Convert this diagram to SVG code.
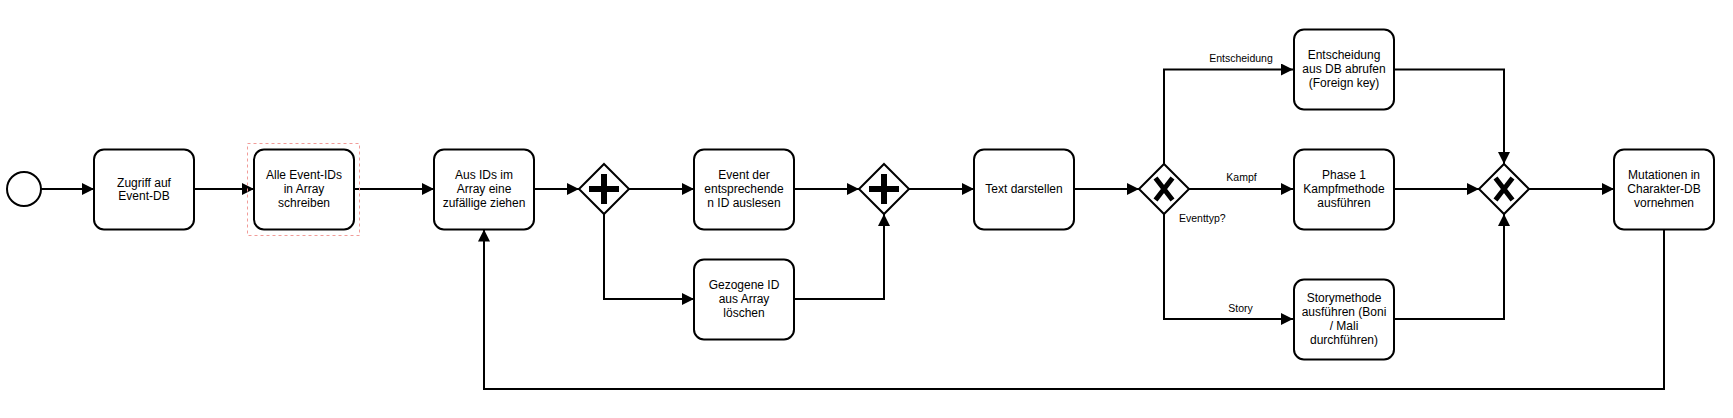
<svg xmlns="http://www.w3.org/2000/svg" width="1733" height="418" viewBox="0 0 1733 418">
<style>
.task{fill:#fff;stroke:#000;stroke-width:2}
.gw{fill:#fff;stroke:#000;stroke-width:2}
.ev{fill:#fff;stroke:#000;stroke-width:2}
.edge{fill:none;stroke:#000;stroke-width:2;marker-end:url(#arr)}
.t{font-family:"Liberation Sans",Arial,sans-serif;font-size:12px;fill:#000;text-anchor:middle}
.lbl{font-family:"Liberation Sans",Arial,sans-serif;font-size:10.5px;fill:#000;text-anchor:middle}
.sym{stroke:#000;stroke-width:6;fill:none}
.xs{stroke:#000;stroke-width:5;fill:none}
</style>
<defs>
<marker id="arr" markerUnits="userSpaceOnUse" markerWidth="12" markerHeight="12" refX="10" refY="5" orient="auto" viewBox="0 0 10 10">
<path d="M0,0 L10,5 L0,10 Z" fill="#000"/>
</marker>
</defs>
<rect width="1733" height="418" fill="#fff"/>
<g id="connectors">
<path class="edge" d="M41,189 L94,189"/>
<path class="edge" d="M194,189 L254,189"/>
<path class="edge" d="M354,189 L434,189"/>
<path class="edge" d="M534,189 L579,189"/>
<path class="edge" d="M629,189 L694,189"/>
<path class="edge" d="M604,214 L604,299 L694,299"/>
<path class="edge" d="M794,189 L859,189"/>
<path class="edge" d="M794,299 L884,299 L884,214"/>
<path class="edge" d="M909,189 L974,189"/>
<path class="edge" d="M1074,189 L1139,189"/>
<path class="edge" d="M1164,164 L1164,69.5 L1293,69.5"/>
<path class="edge" d="M1189,189 L1293,189"/>
<path class="edge" d="M1164,214 L1164,319 L1293,319"/>
<path class="edge" d="M1394,69.5 L1504,69.5 L1504,164"/>
<path class="edge" d="M1394,189 L1479,189"/>
<path class="edge" d="M1394,319 L1504,319 L1504,214"/>
<path class="edge" d="M1529,189 L1614,189"/>
<path class="edge" d="M1664,229.5 L1664,389 L484,389 L484,229.5"/>
<text class="lbl" x="1241" y="62">Entscheidung</text>
<text class="lbl" x="1241.5" y="181">Kampf</text>
<text class="lbl" x="1179" y="222" style="text-anchor:start">Eventtyp?</text>
<text class="lbl" x="1240.5" y="312">Story</text>
</g>
<g id="start">
<circle class="ev" cx="24" cy="189" r="17"/>
</g>
<g id="task-zugriff">
<rect class="task" x="94" y="149.5" width="100" height="80" rx="10"/>
<text class="t" x="144" y="186.5">Zugriff auf</text>
<text class="t" x="144" y="200">Event-DB</text>
</g>
<g id="task-alle">
<rect x="247.5" y="143.5" width="112" height="92" fill="none" stroke="#F19C99" stroke-width="1" stroke-dasharray="3 3"/>
<rect class="task" x="254" y="149.5" width="100" height="80" rx="10"/>
<text class="t" x="304" y="179">Alle Event-IDs</text>
<text class="t" x="304" y="193">in Array</text>
<text class="t" x="304" y="207">schreiben</text>
</g>
<g id="task-aus">
<rect class="task" x="434" y="149.5" width="100" height="80" rx="10"/>
<text class="t" x="484" y="179">Aus IDs im</text>
<text class="t" x="484" y="193">Array eine</text>
<text class="t" x="484" y="207">zufällige ziehen</text>
</g>
<g id="gw-par1">
<path class="gw" d="M604,164 L629,189 L604,214 L579,189 Z"/>
<path class="sym" d="M589,189 L619,189 M604,174 L604,204"/>
</g>
<g id="task-event">
<rect class="task" x="694" y="149.5" width="100" height="80" rx="10"/>
<text class="t" x="744" y="179">Event der</text>
<text class="t" x="744" y="193">entsprechende</text>
<text class="t" x="744" y="207">n ID auslesen</text>
</g>
<g id="task-gezogene">
<rect class="task" x="694" y="259.5" width="100" height="80" rx="10"/>
<text class="t" x="744" y="289">Gezogene ID</text>
<text class="t" x="744" y="303">aus Array</text>
<text class="t" x="744" y="317">löschen</text>
</g>
<g id="gw-par2">
<path class="gw" d="M884,164 L909,189 L884,214 L859,189 Z"/>
<path class="sym" d="M869,189 L899,189 M884,174 L884,204"/>
</g>
<g id="task-text">
<rect class="task" x="974" y="149.5" width="100" height="80" rx="10"/>
<text class="t" x="1024" y="193">Text darstellen</text>
</g>
<g id="gw-xor1">
<path class="gw" d="M1164,164 L1189,189 L1164,214 L1139,189 Z"/>
<path class="xs" d="M1155.5,178 L1172.5,200 M1172.5,178 L1155.5,200"/>
</g>
<g id="task-entscheidung">
<rect class="task" x="1294" y="29.5" width="100" height="80" rx="10"/>
<text class="t" x="1344" y="59">Entscheidung</text>
<text class="t" x="1344" y="73">aus DB abrufen</text>
<text class="t" x="1344" y="87">(Foreign key)</text>
</g>
<g id="task-kampf">
<rect class="task" x="1294" y="149.5" width="100" height="80" rx="10"/>
<text class="t" x="1344" y="179">Phase 1</text>
<text class="t" x="1344" y="193">Kampfmethode</text>
<text class="t" x="1344" y="207">ausführen</text>
</g>
<g id="task-story">
<rect class="task" x="1294" y="279.5" width="100" height="80" rx="10"/>
<text class="t" x="1344" y="302">Storymethode</text>
<text class="t" x="1344" y="316">ausführen (Boni</text>
<text class="t" x="1344" y="330">/ Mali</text>
<text class="t" x="1344" y="344">durchführen)</text>
</g>
<g id="gw-xor2">
<path class="gw" d="M1504,164 L1529,189 L1504,214 L1479,189 Z"/>
<path class="xs" d="M1495.5,178 L1512.5,200 M1512.5,178 L1495.5,200"/>
</g>
<g id="task-mutationen">
<rect class="task" x="1614" y="149.5" width="100" height="80" rx="10"/>
<text class="t" x="1664" y="179">Mutationen in</text>
<text class="t" x="1664" y="193">Charakter-DB</text>
<text class="t" x="1664" y="207">vornehmen</text>
</g>
</svg>
